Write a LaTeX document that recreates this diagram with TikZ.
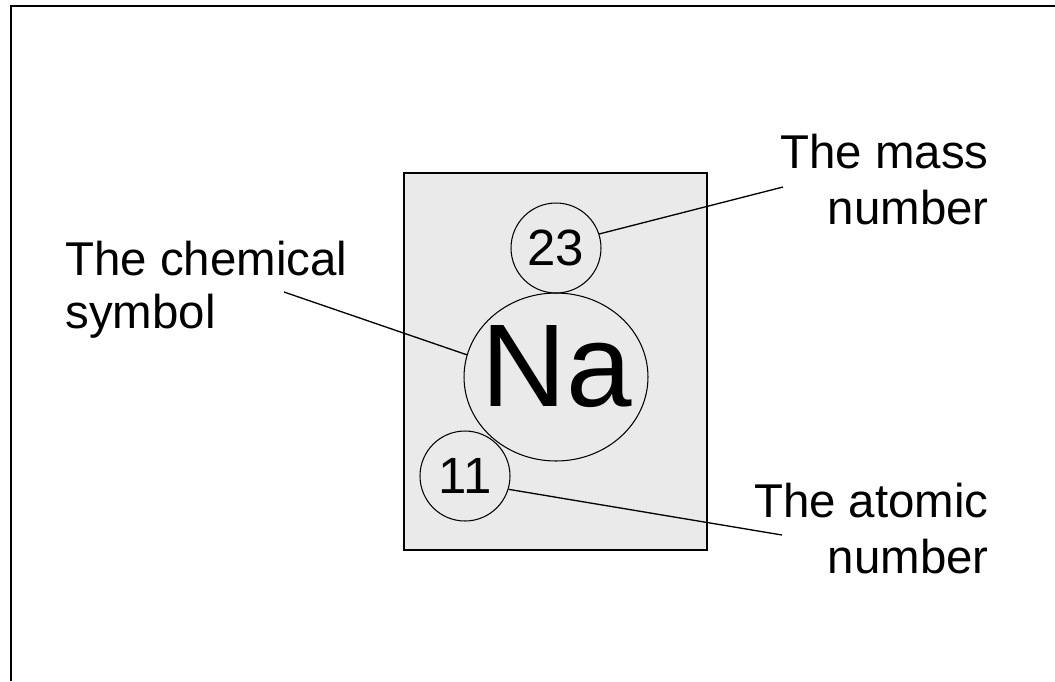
\documentclass[tikz,border=0pt]{standalone}
\usepackage{fontspec}
\setmainfont{Liberation Sans}
\usepackage{tikz}
\usetikzlibrary{shapes.geometric}

\definecolor{cardgray}{RGB}{234,234,234}

\begin{document}
\begin{tikzpicture}[
            x=0.02cm, y=-0.02cm,
            frameline/.style={color=black, line width=1pt},
            card/.style={draw=black, line width=1pt, fill=cardgray},
            numbernode/.style={circle, draw=black, line width=0.6pt, minimum size=1.8cm, inner sep=0pt, font=\fontsize{29}{30}\selectfont},
            symbolring/.style={ellipse, draw=black, line width=0.6pt, minimum width=3.68cm, minimum height=3.36cm, inner sep=0pt},
            symboltext/.style={inner sep=0pt, font=\fontsize{67}{70}\selectfont},
            pointer/.style={color=black, line width=0.75pt},
            labelnode/.style={inner sep=0pt, font=\fontsize{27}{32}\selectfont}
        ]
            \useasboundingbox (0,0) rectangle (1055,681);

            %frame
            \draw[frameline] (1055,6) -- (11,6) -- (11,681);

            % element card
            \draw[card] (404,173) rectangle (707,550);

            % circles on the card
            \node[numbernode] (mass) at (556,248) {23};
            \node[symbolring] (symbol) at (556,377) {};
            \node[symboltext, anchor=base] (symtext) at (557,406) {Na};
            \node[numbernode] (atomic) at (465,476) {11};

            % labels
            \node[labelnode, align=right, anchor=north east] (masslabel) at (989,134) {The mass\\number};
            \node[labelnode, align=left, anchor=north west] (chemlabel) at (65,241) {The chemical\\[-2pt]symbol};
            \node[labelnode, align=right, anchor=north east] (atomiclabel) at (989,483) {The atomic\\number};

            % pointer lines
            \coordinate (massend) at (783,187);
            \coordinate (chemend) at (284,292);
            \coordinate (atomicend) at (782,535);
            \draw[pointer] (mass.18) -- (massend);
            \draw[pointer] (symbol.166) -- (chemend);
            \draw[pointer] (atomic.-17) -- (atomicend);

        \end{tikzpicture}
\end{document}
